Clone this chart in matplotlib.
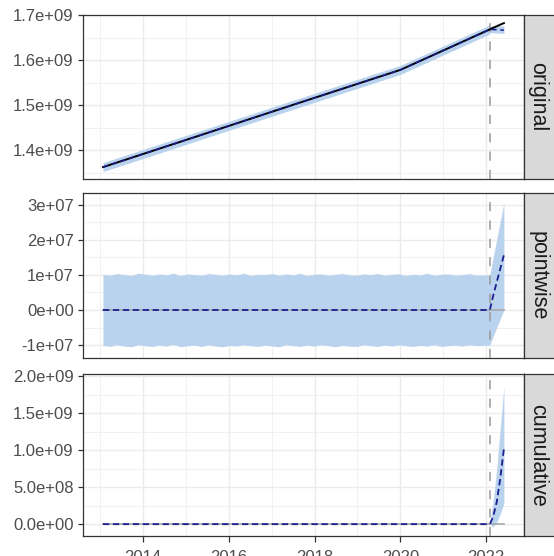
import matplotlib
matplotlib.use('Agg')
import matplotlib.pyplot as plt
import matplotlib.dates as mdates
from matplotlib.ticker import FixedLocator, MultipleLocator
import numpy as np
import pandas as pd

obs_dates = pd.to_datetime(['2013-01-25', '2015-04-01', '2017-08-01', '2020-01-01',
                            '2022-02-01', '2022-03-01', '2022-04-01', '2022-05-01', '2022-06-01'])
obs_vals = [1.362, 1.430, 1.503, 1.578, 1.668, 1.6715, 1.675, 1.6785, 1.682]
band_half = 0.010  # pre-period interval half width in the original panel

intervention = pd.Timestamp('2022-02-01')

# post period (counterfactual prediction and effects)
post_dates = pd.to_datetime(['2022-02-01', '2022-03-01', '2022-04-01', '2022-05-01', '2022-06-01'])
pred_post = [1.668, 1.6678, 1.6672, 1.6668, 1.6663]
pred_post_lo = [1.661, 1.6605, 1.6600, 1.6595, 1.6590]
pred_post_hi = [1.675, 1.6752, 1.6755, 1.6757, 1.6760]

point_post = [0.0, 0.40, 0.80, 1.18, 1.57]       # 1e7
point_post_lo = [-1.0, -0.75, -0.50, -0.25, 0.0]
point_post_hi = [1.0, 1.50, 2.02, 2.53, 3.05]

cum_post = [0.0, 0.10, 0.30, 0.62, 1.02]         # 1e9
cum_post_lo = [0.0, -0.04, 0.03, 0.14, 0.28]
cum_post_hi = [0.0, 0.30, 0.75, 1.30, 1.86]

# pre-period pointwise interval edges, every ~2 months, units 1e6
pre_upper = [10.2, 9.9, 10.4, 10.1, 9.8, 10.5, 10.2, 9.9, 10.3, 10.0, 10.5, 9.8, 10.3, 10.1,
             9.9, 10.4, 10.2, 9.9, 10.3, 10.0, 10.5, 9.8, 10.2, 10.1, 10.4, 9.9, 10.3, 10.0,
             10.5, 9.8, 10.2, 10.3, 9.9, 10.2, 10.4, 10.0, 9.9, 10.3, 10.1, 10.4, 9.9, 10.2,
             10.3, 9.8, 10.2, 10.0, 10.5, 9.9, 10.2, 10.3, 9.9, 10.1, 10.4, 9.9, 10.0]
pre_lower = [-10.1, -10.4, -9.9, -10.3, -10.5, -9.9, -10.2, -10.4, -10.0, -10.3, -9.8, -10.5,
             -10.2, -10.0, -10.4, -9.9, -10.3, -10.5, -10.1, -10.3, -9.9, -10.2, -10.4, -10.0,
             -10.3, -10.5, -9.9, -10.2, -10.4, -10.0, -10.3, -9.9, -10.2, -10.5, -10.1, -10.3,
             -10.4, -9.9, -10.2, -10.4, -10.0, -10.3, -9.9, -10.2, -10.4, -10.1, -10.3, -9.9,
             -10.4, -10.2, -10.0, -10.3, -9.9, -10.2, -10.1]
pre_dates = pd.date_range('2013-01-25', periods=len(pre_upper), freq='60D')

panel_names = ['original', 'pointwise', 'cumulative']
ytick_vals = [[1.4e9, 1.5e9, 1.6e9, 1.7e9],
              [-1e7, 0, 1e7, 2e7, 3e7],
              [0, 5e8, 1e9, 1.5e9, 2e9]]
ytick_labels = [['1.4e+09', '1.5e+09', '1.6e+09', '1.7e+09'],
                ['-1e+07', '0e+00', '1e+07', '2e+07', '3e+07'],
                ['0.0e+00', '5.0e+08', '1.0e+09', '1.5e+09', '2.0e+09']]
ylims = [(1.3356e9, 1.7e9), (-1.37e7, 3.34e7), (-0.16e9, 2.03e9)]

band_col = '#B9D3EE'
pred_col = '#1c1c90'
font = 'Liberation Sans'

fig = plt.figure(figsize=(5.54, 5.56), dpi=100)
W, H = 554, 556
left, right = 83, 524
rows = [(15, 179), (193, 358), (374, 536)]

axes = []
for i, (top, bot) in enumerate(rows):
    ax = fig.add_axes([left / W, 1 - bot / H, (right - left) / W, (bot - top) / H])
    axes.append(ax)
    sax = fig.add_axes([right / W, 1 - bot / H, 40 / W, (bot - top) / H])
    sax.set_facecolor('#D9D9D9')
    sax.set_xticks([])
    sax.set_yticks([])
    for s in sax.spines.values():
        s.set_color('#333333')
        s.set_linewidth(0.9)
    sax.text(14 / 40, 0.5, panel_names[i], rotation=270, ha='center', va='center',
             fontsize=15.5, color='#1A1A1A', family=font, transform=sax.transAxes)

xlim = (pd.Timestamp('2012-08-08'), pd.Timestamp('2022-11-19'))

# original
ax = axes[0]
obs = np.array(obs_vals) * 1e9
n_pre = 5
ax.fill_between(obs_dates[:n_pre], obs[:n_pre] - band_half * 1e9, obs[:n_pre] + band_half * 1e9,
                color=band_col, lw=0, zorder=2)
ax.fill_between(post_dates, np.array(pred_post_lo) * 1e9, np.array(pred_post_hi) * 1e9,
                color=band_col, lw=0, zorder=2)
ax.plot(obs_dates, obs, color='black', lw=1.4, zorder=4)
pred_line = np.concatenate([obs[:n_pre - 1], np.array(pred_post) * 1e9])
pred_line_dates = obs_dates[:n_pre - 1].append(post_dates)
ax.plot(pred_line_dates, pred_line, color=pred_col, lw=1.1, ls=(0, (3.5, 2.5)), zorder=5)

# pointwise
ax = axes[1]
pt_d = pre_dates.append(post_dates)
pt_lo = np.concatenate([pre_lower, np.array(point_post_lo) * 10]) * 1e6
pt_hi = np.concatenate([pre_upper, np.array(point_post_hi) * 10]) * 1e6
ax.fill_between(pt_d, pt_lo, pt_hi, color=band_col, lw=0, zorder=2)
ax.plot([pre_dates[0], post_dates[-1]], [0, 0], color='#A9A9A9', lw=1.2, zorder=3)
eff_d = pre_dates[:1].append(post_dates)
eff = np.concatenate([[0.0], np.array(point_post) * 1e7])
ax.plot(eff_d, eff, color=pred_col, lw=1.3, ls=(0, (3.5, 2.0)), zorder=5)

# cumulative
ax = axes[2]
ax.fill_between(post_dates, np.array(cum_post_lo) * 1e9, np.array(cum_post_hi) * 1e9,
                color=band_col, lw=0, zorder=2)
ax.plot([pre_dates[0], post_dates[-1]], [0, 0], color='#A9A9A9', lw=1.2, zorder=3)
ceff = np.concatenate([[0.0], np.array(cum_post) * 1e9])
ax.plot(eff_d, ceff, color=pred_col, lw=1.3, ls=(0, (3.5, 2.0)), zorder=5)

for i, ax in enumerate(axes):
    ax.set_xlim(xlim)
    ax.set_ylim(ylims[i])
    ax.axvline(intervention, color='#999999', lw=1.1, ls=(0, (6, 6)), zorder=3)
    ax.xaxis.set_major_locator(mdates.YearLocator(2))
    ax.xaxis.set_minor_locator(mdates.YearLocator(1))
    ax.xaxis.set_major_formatter(mdates.DateFormatter('%Y'))
    ax.yaxis.set_major_locator(FixedLocator(ytick_vals[i]))
    step = ytick_vals[i][1] - ytick_vals[i][0]
    ax.yaxis.set_minor_locator(MultipleLocator(step / 2))
    ax.set_yticklabels(ytick_labels[i])
    ax.grid(True, which='major', color='#EBEBEB', lw=1.0, zorder=0)
    ax.grid(True, which='minor', color='#EFEFEF', lw=0.6, zorder=0)
    ax.set_axisbelow(True)
    ax.tick_params(axis='y', which='major', length=3.6, width=0.9, color='#333333',
                   pad=3.0, labelsize=12, labelcolor='#4D4D4D')
    ax.tick_params(which='minor', length=0)
    for lab in ax.get_yticklabels():
        lab.set_family(font)
    for s in ax.spines.values():
        s.set_color('#333333')
        s.set_linewidth(0.9)
    if i < 2:
        ax.tick_params(axis='x', which='major', length=0, labelbottom=False)
    else:
        ax.tick_params(axis='x', which='major', length=4.3, width=0.9, color='#333333',
                       pad=6.0, labelsize=12, labelcolor='#4D4D4D')
        for lab in ax.get_xticklabels():
            lab.set_family(font)

fig.savefig('out.png', dpi=100)
